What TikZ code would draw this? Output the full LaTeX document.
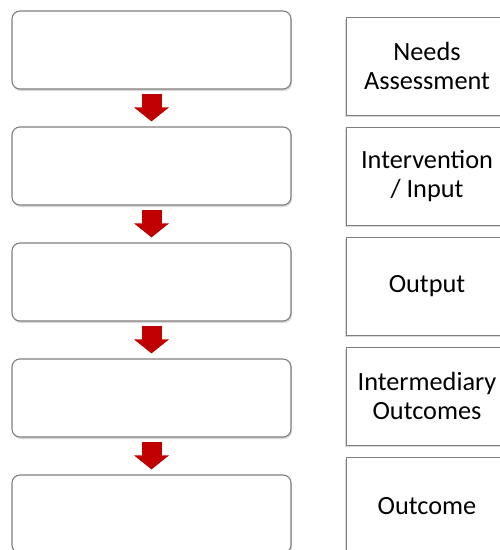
\documentclass[tikz,border=0pt]{standalone}
\usepackage{fontspec}
\setmainfont{Carlito}
\usepackage{tikz}
\usetikzlibrary{arrows.meta}
\usetikzlibrary{shadows}

\definecolor{arrowred}{HTML}{C00000}
\definecolor{boxgray}{HTML}{7F7F7F}

\begin{document}
\begin{tikzpicture}[x=1pt, y=1pt,
    stagebox/.style={draw=boxgray, line width=1.1pt, fill=white, rounded corners=8pt,
        minimum width=279pt, minimum height=78pt, inner sep=0pt,
        drop shadow={opacity=0.3, shadow xshift=1pt, shadow yshift=-2pt}},
    labelbox/.style={draw=boxgray, line width=1pt, fill=white,
        minimum width=162pt, minimum height=98pt, inner sep=0pt, align=center,
        font=\fontsize{26.3}{29}\selectfont,
        drop shadow={opacity=0.3, shadow xshift=-1pt, shadow yshift=-2pt}},
    flowarrow/.style={arrowred, line width=20pt,
        -{Triangle[width=34pt, length=14pt]}}]
        \useasboundingbox (0, 0) rectangle (500, -550);
        % left column
        \foreach \k/\y in {1/50, 2/166, 3/282, 4/398, 5/514}
            \node [stagebox] (s\k) at (151.5, -\y) {};
        \foreach \k in {1,...,4}{
            \pgfmathtruncatemacro{\nxt}{\k+1};
            \draw [flowarrow] ([yshift=-4pt]s\k.south) -- ([yshift=5pt]s\nxt.north);
        }
        % right column
        \node [labelbox] (l1) at (427, -66) {Needs\\Assessment};
        \node [labelbox] (l2) at (427, -176) {Intervention\\/ Input};
        \node [labelbox] (l3) at (427, -286) {Output};
        \node [labelbox] (l4) at (427, -396) {Intermediary\\Outcomes};
        \node [labelbox] (l5) at (427, -506) {Outcome};
\end{tikzpicture}
\end{document}
